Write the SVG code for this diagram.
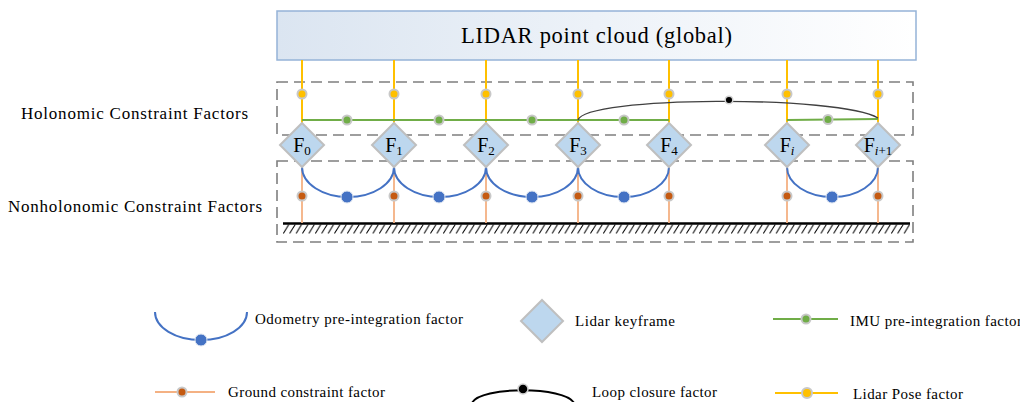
<svg xmlns="http://www.w3.org/2000/svg" width="1020" height="402" viewBox="0 0 1020 402" font-family="'Liberation Serif', 'Times New Roman', serif">
<defs>
<linearGradient id="boxgrad" x1="0" y1="0" x2="1" y2="0">
<stop offset="0" stop-color="#dbe5f1"/>
<stop offset="1" stop-color="#ffffff"/>
</linearGradient>
<pattern id="hatch" patternUnits="userSpaceOnUse" x="283" y="224" width="6.4" height="10">
<line x1="0.3" y1="9.5" x2="5.8" y2="0.5" stroke="#000" stroke-width="1"/>
</pattern>
<style>
text{font-family:'Liberation Serif','Times New Roman',serif;fill:#000}
.dash{fill:none;stroke:#7f7f7f;stroke-width:1.6;stroke-dasharray:11 6}
.pose{stroke:#ffc000;stroke-width:2;fill:none}
.imu{stroke:#70ad47;stroke-width:2;fill:none}
.odo{stroke:#4472c4;stroke-width:2;fill:none}
.gnd{stroke:#f4b183;stroke-width:1.8;fill:none}
.loop{stroke:#404040;stroke-width:1.3;fill:none}
.dpose{fill:#ffc000;stroke:#c8c8c8;stroke-width:2}
.dimu{fill:#70ad47;stroke:#c8c8c8;stroke-width:2}
.dgnd{fill:#c55a11;stroke:#c8c8c8;stroke-width:2}
.dodo{fill:#4472c4;stroke:#dbe3f0;stroke-width:1}
.dloop{fill:#000;stroke:#d0d0d0;stroke-width:1.5}
.kf{fill:#bdd7ee;stroke:#bfbfbf;stroke-width:2}
.flab{font-size:20px}
.sub{font-size:13px}
.side{font-size:17px}
.leg{font-size:15px}
</style>
</defs>
<rect width="1020" height="402" fill="#fff"/>

<g id="global-map">
<rect x="277" y="11" width="639" height="49" fill="url(#boxgrad)" stroke="#95b3d7" stroke-width="1.5"/>
<text x="461" y="43" font-size="22.5" textLength="271" lengthAdjust="spacing">LIDAR point cloud (global)</text>
</g>

<g id="regions">
<rect class="dash" x="277" y="82" width="636" height="53"/>
<rect class="dash" x="277" y="161" width="636" height="81"/>
<text class="side" x="21" y="119" textLength="227" lengthAdjust="spacing">Holonomic Constraint Factors</text>
<text class="side" x="8" y="212" textLength="254" lengthAdjust="spacing">Nonholonomic Constraint Factors</text>
</g>

<g id="ground">
<rect x="283" y="224" width="627" height="10" fill="url(#hatch)"/>
<line x1="283" y1="223.5" x2="910" y2="223.5" stroke="#000" stroke-width="2.5"/>
</g>

<g id="connectors">
<path class="pose" d="M302,60V123M394,60V123M486,60V123M578,60V123M669,60V123M787,60V123M878,60V123"/>
<path class="imu" d="M302,120H669M787,120L878,119"/>
<path class="loop" d="M578,120C585,96 840,95 878,118"/>
<path class="gnd" d="M302,167V223M394,167V223M486,167V223M578,167V223M669,167V223M787,167V223M878,167V223"/>
<path class="odo" d="M302,167A46 30 0 0 0 394,167M394,167A46 30 0 0 0 486,167M486,167A46 30 0 0 0 578,167M578,167A45.5 30 0 0 0 669,167M787,167A45.5 30 0 0 0 878,167"/>
<g>
<circle class="dpose" cx="302" cy="94" r="4.5"/><circle class="dpose" cx="394" cy="94" r="4.5"/><circle class="dpose" cx="486" cy="94" r="4.5"/><circle class="dpose" cx="578" cy="94" r="4.5"/><circle class="dpose" cx="669" cy="94" r="4.5"/><circle class="dpose" cx="787" cy="94" r="4.5"/><circle class="dpose" cx="878" cy="94" r="4.5"/>
<circle class="dimu" cx="347" cy="120" r="4.5"/><circle class="dimu" cx="439" cy="120" r="4.5"/><circle class="dimu" cx="532" cy="120" r="4.5"/><circle class="dimu" cx="624" cy="120" r="4.5"/><circle class="dimu" cx="828" cy="119.5" r="4.5"/>
<circle class="dloop" cx="729" cy="100" r="3.8"/>
<circle class="dgnd" cx="302" cy="196" r="4.5"/><circle class="dgnd" cx="394" cy="196" r="4.5"/><circle class="dgnd" cx="486" cy="196" r="4.5"/><circle class="dgnd" cx="578" cy="196" r="4.5"/><circle class="dgnd" cx="669" cy="196" r="4.5"/><circle class="dgnd" cx="787" cy="196" r="4.5"/><circle class="dgnd" cx="878" cy="196" r="4.5"/>
<circle class="dodo" cx="347" cy="197" r="6"/><circle class="dodo" cx="439" cy="197" r="6"/><circle class="dodo" cx="532" cy="197" r="6"/><circle class="dodo" cx="624" cy="197" r="6"/><circle class="dodo" cx="832" cy="197" r="6"/>
</g>
</g>

<g id="F0"><polygon class="kf" points="302,123 324,145 302,167 280,145"/><text class="flab" x="302" y="152" text-anchor="middle">F<tspan class="sub" dy="3">0</tspan></text></g>
<g id="F1"><polygon class="kf" points="394,123 416,145 394,167 372,145"/><text class="flab" x="394" y="152" text-anchor="middle">F<tspan class="sub" dy="3">1</tspan></text></g>
<g id="F2"><polygon class="kf" points="486,123 508,145 486,167 464,145"/><text class="flab" x="486" y="152" text-anchor="middle">F<tspan class="sub" dy="3">2</tspan></text></g>
<g id="F3"><polygon class="kf" points="578,123 600,145 578,167 556,145"/><text class="flab" x="578" y="152" text-anchor="middle">F<tspan class="sub" dy="3">3</tspan></text></g>
<g id="F4"><polygon class="kf" points="669,123 691,145 669,167 647,145"/><text class="flab" x="669" y="152" text-anchor="middle">F<tspan class="sub" dy="3">4</tspan></text></g>
<g id="Fi"><polygon class="kf" points="787,123 809,145 787,167 765,145"/><text class="flab" x="787" y="152" text-anchor="middle">F<tspan class="sub" dy="3" font-style="italic">i</tspan></text></g>
<g id="Fi1"><polygon class="kf" points="878,123 900,145 878,167 856,145"/><text class="flab" x="878" y="152" text-anchor="middle">F<tspan class="sub" dy="3" font-style="italic">i</tspan><tspan class="sub">+1</tspan></text></g>

<g id="legend-odometry">
<path class="odo" d="M155,312A46 28 0 0 0 247,312"/>
<circle class="dodo" cx="201" cy="340" r="6"/>
<text class="leg" x="255" y="324" textLength="208" lengthAdjust="spacing">Odometry  pre-integration factor</text>
</g>
<g id="legend-keyframe">
<polygon class="kf" points="542,300 563,321 542,342 521,321"/>
<text class="leg" x="575" y="326" textLength="100" lengthAdjust="spacing">Lidar keyframe</text>
</g>
<g id="legend-imu">
<line class="imu" x1="773" y1="319" x2="838" y2="319"/>
<circle class="dimu" cx="806" cy="319" r="4.5"/>
<text class="leg" x="850" y="326" textLength="172" lengthAdjust="spacing">IMU pre-integration factor</text>
</g>
<g id="legend-ground">
<line class="gnd" x1="155" y1="392" x2="215" y2="392"/>
<circle class="dgnd" cx="182" cy="392" r="4.5"/>
<text class="leg" x="228" y="397" textLength="157" lengthAdjust="spacing">Ground constraint factor</text>
</g>
<g id="legend-loop">
<path d="M472,403C480,386 565,386 574,403" fill="none" stroke="#000" stroke-width="2"/>
<circle class="dloop" cx="523" cy="389" r="5"/>
<text class="leg" x="592" y="397" textLength="125" lengthAdjust="spacing">Loop closure factor</text>
</g>
<g id="legend-pose">
<line class="pose" x1="775" y1="393" x2="838" y2="393"/>
<circle class="dpose" cx="807" cy="393" r="5"/>
<text class="leg" x="853" y="399" textLength="110" lengthAdjust="spacing">Lidar Pose factor</text>
</g>
</svg>
